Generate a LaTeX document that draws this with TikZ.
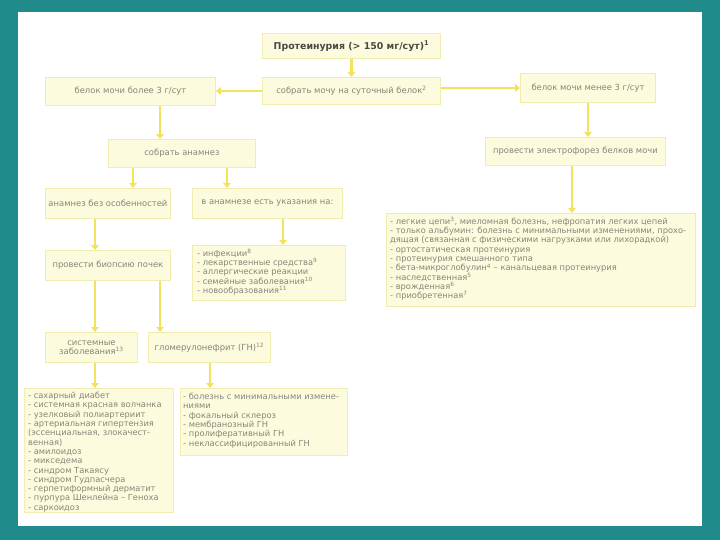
\documentclass[tikz,border=0pt]{standalone}
\usepackage{fontspec}
\setmainfont{DejaVu Sans}
\usetikzlibrary{arrows.meta,calc}
\definecolor{teal0}{HTML}{218A8A}
\definecolor{boxfill}{HTML}{FDFBDD}
\definecolor{boxline}{HTML}{F1EDB0}
\definecolor{arrowy}{HTML}{F3E25C}
\definecolor{txt}{HTML}{85857A}
\definecolor{ttl}{HTML}{4A4A44}
\tikzset{
  box/.style={draw=boxline, fill=boxfill, line width=0.9pt, text=txt, inner sep=0pt,
    font=\fontsize{8.4}{9.4}\selectfont},
  listtext/.style={text=txt, align=left, inner sep=0pt, anchor=north west,
    font=\fontsize{8.3}{9.3}\selectfont},
  arr/.style={draw=arrowy, line width=2.4pt, -{Triangle[width=7.5pt,length=5pt]}},
}
\newcommand{\mkbox}[6]{% name, x1,y1,x2,y2, text
  \node[box, minimum width={#4-#2}, minimum height={#5-#3}, anchor=north west, align=center] (#1) at (#2,#3) {#6};}
\begin{document}
\begin{tikzpicture}[x=1pt,y=-1pt]
\fill[teal0] (0,0) rectangle (720,540);
\fill[white] (18,12) rectangle (702,526);
\useasboundingbox (0,0) rectangle (720,540);

\node[box, minimum width=178, minimum height=25, anchor=north west, text=ttl,
  font=\bfseries\fontsize{9.4}{10.5}\selectfont] (n1) at (262,33) {Протеинурия (> 150 мг/сут)\textsuperscript{1}};
\mkbox{n2}{45}{77}{215}{105}{белок мочи более 3 г/сут}
\mkbox{n3}{262}{77}{440}{104}{собрать мочу на суточный белок\textsuperscript{2}}
\mkbox{n4}{520}{73}{655}{102}{белок мочи менее 3 г/сут}
\mkbox{n5}{108}{139}{255}{167}{собрать анамнез}
\mkbox{n6}{485}{137}{665}{165}{провести электрофорез белков мочи}
\mkbox{n7}{45}{188}{170}{218}{анамнез без особенностей}
\mkbox{n8}{192}{188}{342}{218}{в анамнезе есть указания на:}
\mkbox{n10}{45}{250}{170}{280}{провести биопсию почек}
\mkbox{n12}{45}{332}{137}{362}{системные\\заболевания\textsuperscript{13}}
\mkbox{n13}{148}{332}{270}{362}{гломерулонефрит (ГН)\textsuperscript{12}}

% list boxes
\node[box, minimum width=309, minimum height=93, anchor=north west] (n9) at (386,213) {};
\node[listtext] (t9) at (390,217) {%
- легкие цепи\textsuperscript{3}, миеломная болезнь, нефропатия легких цепей\\
- только альбумин: болезнь с минимальными изменениями, прохо-\\
дящая (связанная с физическими нагрузками или лихорадкой)\\
- ортостатическая протеинурия\\
- протеинурия смешанного типа\\
- бета-микроглобулин\textsuperscript{4} -- канальцевая протеинурия\\
- наследственная\textsuperscript{5}\\
- врожденная\textsuperscript{6}\\
- приобретенная\textsuperscript{7}};

\node[box, minimum width=153, minimum height=55, anchor=north west] (n11) at (192,245) {};
\node[listtext] (t11) at (197,249) {%
- инфекции\textsuperscript{8}\\
- лекарственные средства\textsuperscript{9}\\
- аллергические реакции\\
- семейные заболевания\textsuperscript{10}\\
- новообразования\textsuperscript{11}};

\node[box, minimum width=149, minimum height=124, anchor=north west] (n14) at (24,388) {};
\node[listtext] (t14) at (28,392) {%
- сахарный диабет\\
- системная красная волчанка\\
- узелковый полиартериит\\
- артериальная гипертензия\\
(эссенциальная, злокачест-\\
венная)\\
- амилоидоз\\
- микседема\\
- синдром Такаясу\\
- синдром Гудпасчера\\
- герпетиформный дерматит\\
- пурпура Шенлейна -- Геноха\\
- саркоидоз};

\node[box, minimum width=167, minimum height=67, anchor=north west] (n15) at (180,388) {};
\node[listtext] (t15) at (183,393) {%
- болезнь с минимальными измене-\\
ниями\\
- фокальный склероз\\
- мембранозный ГН\\
- пролиферативный ГН\\
- неклассифицированный ГН};

% connector x positions
\coordinate (x160) at (160,0);
\coordinate (x133) at (133,0);
\coordinate (x227) at (227,0);
\coordinate (x95) at (95,0);
\coordinate (x283) at (283,0);
\coordinate (x572) at (572,0);
\coordinate (x210) at (210,0);

\draw[arr] (n1.south) -- (n3.north);
\draw[arr] (n3.west) -- (n3.west -| n2.east);
\draw[arr] (n3.east |- n4.west) -- (n4.west);
\draw[arr] (n2.south -| x160) -- (n5.north -| x160);
\draw[arr] (n4.south) -- (n4.south |- n6.north);
\draw[arr] (n5.south -| x133) -- (n7.north -| x133);
\draw[arr] (n5.south -| x227) -- (n8.north -| x227);
\draw[arr] (n6.south -| x572) -- (n9.north -| x572);
\draw[arr] (n7.south -| x95) -- (n10.north -| x95);
\draw[arr] (n8.south -| x283) -- (n11.north -| x283);
\draw[arr] (n10.south -| x95) -- (n12.north -| x95);
\draw[arr] (n10.south -| x160) -- (n13.north -| x160);
\draw[arr] (n12.south -| x95) -- (n14.north -| x95);
\draw[arr] (n13.south -| x210) -- (n15.north -| x210);
\end{tikzpicture}
\end{document}
